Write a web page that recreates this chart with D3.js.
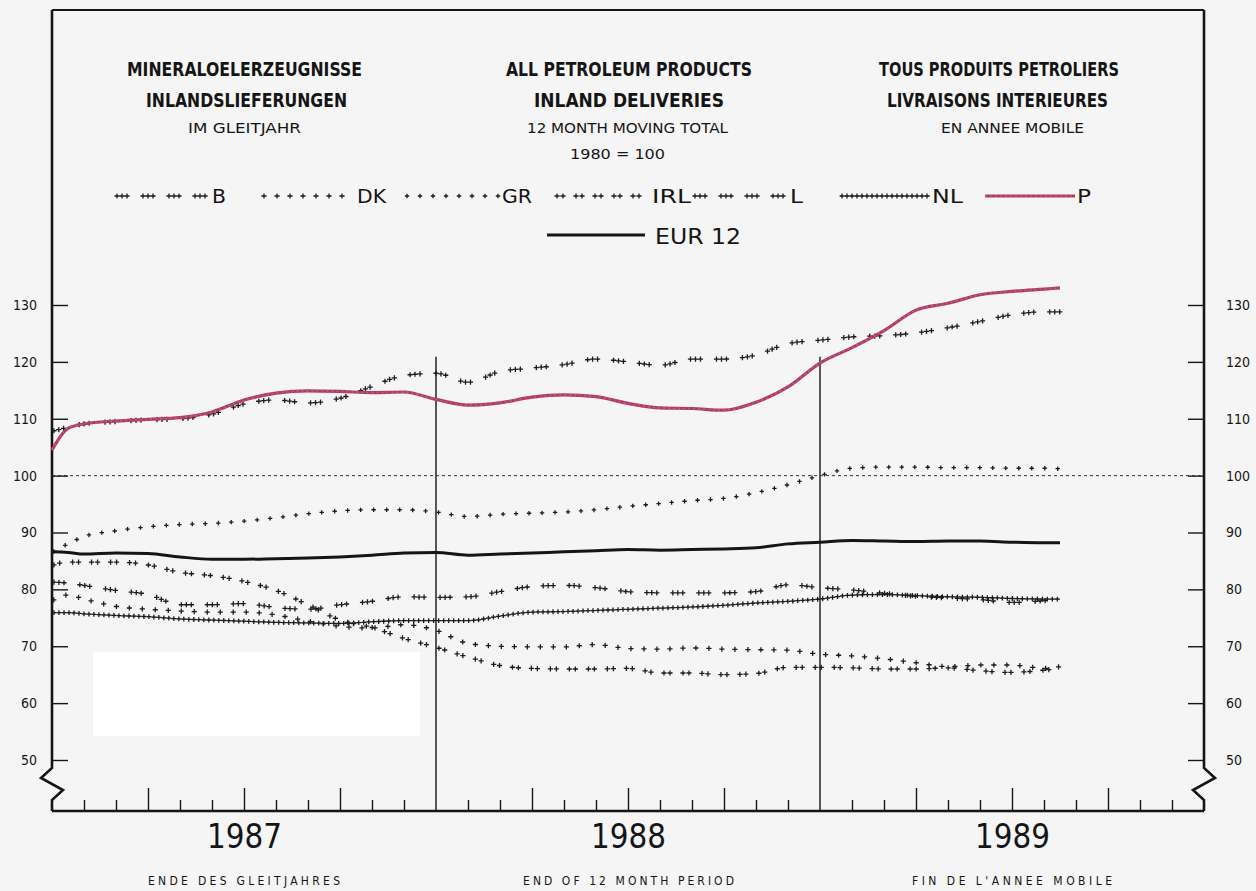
<!DOCTYPE html>
<html><head><meta charset="utf-8">
<script src="https://cdn.jsdelivr.net/npm/d3@7"></script>
<style>body{margin:0;background:#f6f6f6;}svg{display:block}</style>
</head><body>
<svg id="c" width="1256" height="891"></svg>
<script>
// ---------- DATA ----------
const months = [0,0.5,1,2,3,4,5,6,7,8,9,10,11,12,13,14,15,16,17,18,19,20,21,22,23,24,25,26,27,28,29,30,31,31.5];
const seriesB   = [81.3,81.1,80.7,79.8,79.1,77.3,77.3,77.5,76.8,76.5,77.3,77.9,78.7,78.6,78.7,79.6,80.5,80.7,80.3,79.6,79.4,79.4,79.4,79.6,80.8,80.3,79.9,79.3,78.8,78.5,78.2,77.7,78.0,78.2];
const seriesDK  = [78.0,79.0,78.3,77.0,76.5,76.2,76.0,76.0,75.5,74.4,73.5,73.2,73.8,72.8,70.5,70.0,69.9,69.9,70.3,69.6,69.5,69.7,69.5,69.4,69.3,68.6,68.3,67.8,67.1,66.4,66.7,66.7,66.1,66.4];
const seriesGR  = [86.5,88.0,89.3,90.3,91.0,91.4,91.6,92.0,92.6,93.3,93.8,94.0,94.0,93.6,92.8,93.2,93.4,93.6,94.0,94.6,95.1,95.6,96.0,97.0,98.4,100.0,101.3,101.5,101.5,101.4,101.4,101.3,101.3,101.2];
const seriesIRL = [84.2,84.8,84.8,84.8,84.3,83.0,82.4,81.4,79.8,77.3,74.6,73.3,71.4,69.8,68.1,66.6,66.1,66.0,66.0,66.1,65.3,65.3,65.0,65.2,66.3,66.3,66.2,66.0,66.0,66.2,65.7,65.4,65.8,66.1];
const seriesL   = [107.8,108.5,109.1,109.5,109.8,110.0,110.8,112.6,113.3,112.8,113.6,115.7,117.6,118.0,116.4,118.3,118.9,119.5,120.5,120.0,119.4,120.5,120.5,121.2,123.2,123.8,124.4,124.6,125.1,126.0,127.1,128.3,128.8,128.8];
const seriesNL  = [75.9,75.9,75.7,75.4,75.2,74.8,74.6,74.4,74.2,74.1,74.0,74.3,74.5,74.5,74.5,75.3,76.0,76.1,76.3,76.5,76.7,76.9,77.2,77.6,77.9,78.3,79.0,79.1,78.9,78.7,78.6,78.4,78.3,78.3];
const seriesP   = [104.5,108.3,109.1,109.6,109.9,110.2,111.2,113.3,114.5,114.9,114.8,114.6,114.7,113.4,112.4,112.8,113.8,114.2,113.9,112.7,111.9,111.8,111.5,112.9,115.6,119.8,122.5,125.5,129.1,130.3,131.8,132.4,132.8,133.0];
const seriesEUR = [86.6,86.5,86.2,86.4,86.3,85.7,85.3,85.3,85.4,85.5,85.7,86.0,86.4,86.5,86.0,86.2,86.4,86.6,86.8,87.0,86.9,87.0,87.1,87.3,88.0,88.3,88.6,88.5,88.4,88.5,88.5,88.3,88.2,88.2];
const countryNames = ["B","DK","GR","IRL","L","NL","P"];
const eurName = "EUR 12";
const yTicks = [50,60,70,80,90,100,110,120,130];
const yearLabels = ["1987","1988","1989"];
const titleDE = ["MINERALOELERZEUGNISSE","INLANDSLIEFERUNGEN","IM GLEITJAHR"];
const titleEN = ["ALL PETROLEUM PRODUCTS","INLAND DELIVERIES","12 MONTH MOVING TOTAL","1980 = 100"];
const titleFR = ["TOUS PRODUITS PETROLIERS","LIVRAISONS INTERIEURES","EN ANNEE MOBILE"];
const footer = ["ENDE DES GLEITJAHRES","END OF 12 MONTH PERIOD","FIN DE L'ANNEE MOBILE"];
const refValue = 100;

// ---------- LAYOUT ----------
const svg = d3.select("#c");
const Lx = 52, Rx = 1204, Ty = 10, By = 811;
const x = d3.scaleLinear().domain([0,36]).range([Lx,Rx]);
const y = d3.scaleLinear().domain([50,130]).range([760,305]);
const FONT = "'DejaVu Sans Condensed','DejaVu Sans',sans-serif";
const INK = "#151515";

// light scan patches
svg.append("rect").attr("x",0).attr("y",0).attr("width",1256).attr("height",891).attr("fill","#f5f5f5");
svg.append("rect").attr("x",93).attr("y",652).attr("width",327).attr("height",84).attr("fill","#ffffff");

// frame with axis breaks
const brk = (ax, dir) => `M${ax},${Ty}V${By-43}L${ax+dir*11},${By-33}L${ax-dir*11},${By-21}L${ax},${By-11}V${By}`;
svg.append("path").attr("d", brk(Lx,-1)).attr("fill","none").attr("stroke",INK).attr("stroke-width",2.6);
svg.append("path").attr("d", brk(Rx,1)).attr("fill","none").attr("stroke",INK).attr("stroke-width",2.6);
svg.append("line").attr("x1",Lx).attr("x2",Rx).attr("y1",Ty).attr("y2",Ty).attr("stroke",INK).attr("stroke-width",2.2);
svg.append("line").attr("x1",Lx).attr("x2",Rx).attr("y1",By).attr("y2",By).attr("stroke",INK).attr("stroke-width",2.6);

// y axes
const axL = svg.append("g").attr("transform",`translate(${Lx},0)`)
  .call(d3.axisLeft(y).tickValues(yTicks).tickSize(-16).tickPadding(15));
const axR = svg.append("g").attr("transform",`translate(${Rx},0)`)
  .call(d3.axisRight(y).tickValues(yTicks).tickSize(-16).tickPadding(22));
[axL,axR].forEach(a=>{
  a.select(".domain").remove();
  a.selectAll("line").attr("stroke",INK).attr("stroke-width",1.4);
  a.selectAll("text").attr("font-family",FONT).attr("font-size",14).attr("fill",INK);
});

// x axis month ticks
const monthTicks = d3.range(1,36).filter(m=>m!==12 && m!==24);
const axB = svg.append("g").attr("transform",`translate(0,${By})`)
  .call(d3.axisBottom(x).tickValues(monthTicks).tickSize(-11).tickFormat(""));
axB.select(".domain").remove();
axB.selectAll(".tick line").attr("y2", d => d%3===0 ? -23 : -11).attr("stroke",INK).attr("stroke-width",1.4);
// year separators
[12,24].forEach(m=>{
  svg.append("line").attr("x1",x(m)).attr("x2",x(m)).attr("y1",y(120.9)).attr("y2",By).attr("stroke",INK).attr("stroke-width",1.4);
});
// year labels
const axY = svg.append("g").attr("transform",`translate(0,${By})`)
  .call(d3.axisBottom(x).tickValues([6,18,30]).tickSize(0).tickFormat((d,i)=>yearLabels[i]));
axY.select(".domain").remove();
axY.selectAll("text").attr("y",37).attr("dy",0).attr("font-family","'DejaVu Sans',sans-serif")
  .attr("font-size",34).attr("fill",INK).attr("textLength",75).attr("lengthAdjust","spacingAndGlyphs");

// reference line at 100
svg.append("line").attr("x1",Lx).attr("x2",Rx).attr("y1",y(refValue)).attr("y2",y(refValue))
  .attr("stroke","#333").attr("stroke-width",1).attr("stroke-dasharray","3,3");

// titles
function txt(s, left, width, base, size, weight, spacing){
  svg.append("text").attr("x",left).attr("y",base).text(s)
    .attr("font-family",FONT).attr("font-size",size).attr("font-weight",weight||"normal")
    .attr("fill",INK).attr("textLength",width).attr("lengthAdjust", spacing||"spacingAndGlyphs");
}
const tLefts = [[127,146,188],[506,534,527,570],[879,887,941]];
const tWidths = [[235,201,113],[246,190,201,95],[240,221,143]];
const tBase = [76,107,133,159];
[titleDE,titleEN,titleFR].forEach((arr,c)=>arr.forEach((s,i)=>{
  const big = i<2;
  txt(s, tLefts[c][i], tWidths[c][i], tBase[i], big?19:14, big?"bold":"normal");
}));
// footer
const fLefts=[148,523,912], fWidths=[192,211,200];
footer.forEach((s,i)=>txt(s,fLefts[i],fWidths[i],885,12,"normal","spacing"));

// ---------- SERIES ----------
const allSeries = [seriesB,seriesDK,seriesGR,seriesIRL,seriesL,seriesNL,seriesP];
const patterns = [
  {period:26, offsets:[0,5,10], size:2.6},   // B
  {period:13, offsets:[0], size:2.6},        // DK
  {period:13, offsets:[0], size:2.2},        // GR
  {period:19, offsets:[0,6], size:2.6},      // IRL
  {period:26, offsets:[0,5,10], size:2.6},   // L
  {period:5,  offsets:[0], size:2.4},        // NL
  null                                       // P
];
const crossD = s => `M${-s},0H${s}M0,${-s}V${s}`;
function markers(g, node, pat){
  const len = node.getTotalLength();
  for(let s=2; s<len; s+=pat.period){
    pat.offsets.forEach(o=>{
      const d=s+o; if(d>len) return;
      const p=node.getPointAtLength(d);
      g.append("path").attr("d",crossD(pat.size)).attr("transform",`translate(${p.x},${p.y})`)
        .attr("stroke","#1c1c1c").attr("stroke-width",1.3).attr("fill","none");
    });
  }
}
function redDouble(g, dAttr){
  g.append("path").attr("d",dAttr).attr("fill","none").attr("stroke","#c2335d").attr("stroke-width",3.2);
  g.append("path").attr("d",dAttr).attr("fill","none").attr("stroke","#7d7d7d").attr("stroke-width",1.6).attr("stroke-dasharray","2,3");
}
const line = d3.line().x((d,i)=>x(months[i])).y(d=>y(d)).curve(d3.curveMonotoneX);
const gS = svg.append("g");
allSeries.forEach((ser,k)=>{
  const g = gS.append("g");
  if(patterns[k]===null){ redDouble(g, line(ser)); return; }
  const p = g.append("path").attr("d",line(ser)).attr("fill","none")
    .attr("stroke", k===5 ? "#444" : "none").attr("stroke-width",0.7);
  markers(g, p.node(), patterns[k]);
});
svg.append("path").attr("d",line(seriesEUR)).attr("fill","none").attr("stroke",INK).attr("stroke-width",3);

// ---------- LEGEND ----------
const legStart = [115,262,405,555,693,840,985];
const legEnd   = [210,355,500,650,788,930,1075];
const legLabelW = [14,29,30,39,13,31,14];
const legY = 196;
countryNames.forEach((nm,k)=>{
  const g = svg.append("g");
  const dAttr = `M${legStart[k]},${legY}H${legEnd[k]}`;
  if(patterns[k]===null){ redDouble(g,dAttr); }
  else {
    const p = g.append("path").attr("d",dAttr).attr("fill","none").attr("stroke",k===5?"#444":"none").attr("stroke-width",0.7);
    markers(g,p.node(),patterns[k]);
  }
  txt(nm, legEnd[k]+2, legLabelW[k], legY+7, 19, "normal");
});
svg.append("line").attr("x1",547).attr("x2",645).attr("y1",235).attr("y2",235).attr("stroke",INK).attr("stroke-width",3);
txt(eurName, 655, 86, 244, 22, "normal");
</script>
</body></html>
